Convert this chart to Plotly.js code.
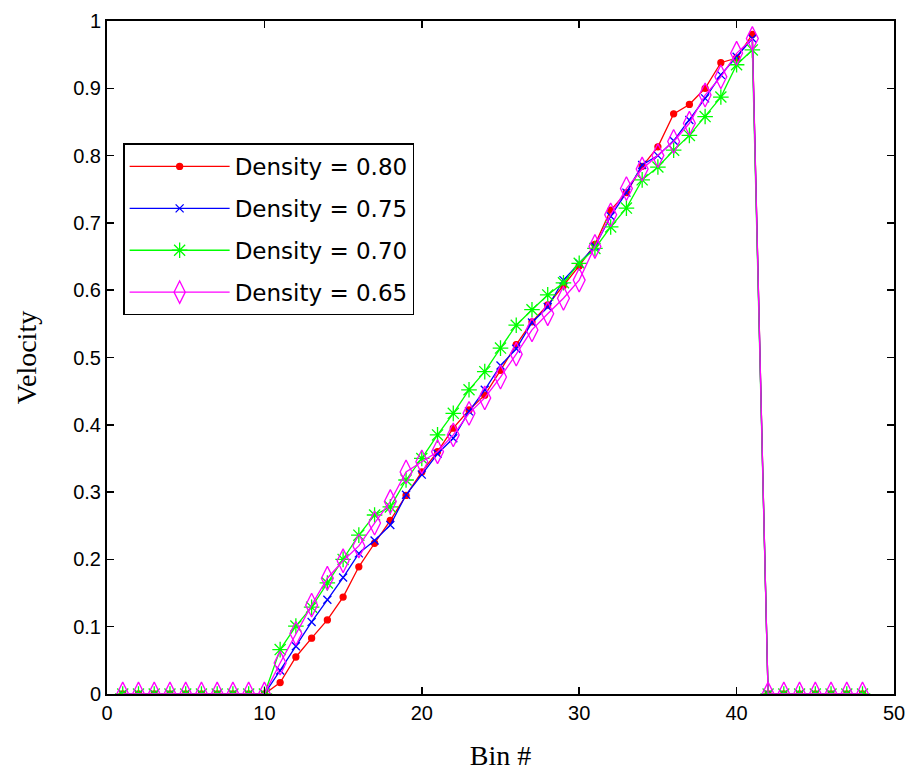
<!DOCTYPE html>
<html>
<head>
<meta charset="utf-8">
<script src="https://cdn.plot.ly/plotly-3.0.1.min.js"></script>
<style>html,body{margin:0;padding:0;background:#fff;}#chart{width:912px;height:778px;}</style>
</head>
<body>
<div id="chart"></div>
<script>
// Bin numbers 1..48
const bins = [1,2,3,4,5,6,7,8,9,10,11,12,13,14,15,16,17,18,19,20,21,22,23,24,25,26,27,28,29,30,31,32,33,34,35,36,37,38,39,40,41,42,43,44,45,46,47,48];

const zerosLead = [0,0,0,0,0,0,0,0,0,0];
const zerosTail = [0,0,0,0,0,0,0];

// Velocity, bins 11..41
const vel080 = [0.017,0.055,0.083,0.110,0.144,0.189,0.224,0.258,0.295,0.330,0.360,0.395,0.422,0.444,0.481,0.519,0.553,0.578,0.607,0.636,0.668,0.719,0.745,0.784,0.813,0.862,0.876,0.900,0.938,0.945,0.980];
const vel075 = [0.035,0.071,0.107,0.140,0.173,0.209,0.228,0.251,0.296,0.326,0.357,0.380,0.420,0.452,0.488,0.513,0.552,0.575,0.615,0.640,0.665,0.710,0.745,0.786,0.800,0.822,0.853,0.885,0.920,0.947,0.974];
const vel070 = [0.066,0.101,0.129,0.165,0.200,0.236,0.266,0.278,0.318,0.350,0.385,0.417,0.452,0.479,0.514,0.548,0.571,0.593,0.611,0.640,0.662,0.694,0.722,0.764,0.783,0.808,0.830,0.858,0.887,0.935,0.957];
const vel065 = [0.046,0.090,0.132,0.172,0.198,0.220,0.254,0.286,0.330,0.345,0.360,0.385,0.417,0.440,0.471,0.505,0.541,0.565,0.588,0.615,0.665,0.712,0.751,0.780,0.800,0.821,0.848,0.890,0.917,0.952,0.974];

const names = ["Density = 0.80","Density = 0.75","Density = 0.70","Density = 0.65"];
const colors = ["#ff0000","#0000ff","#00ff00","#ff00ff"];
const series = [vel080, vel075, vel070, vel065];
const markers = [
  {symbol:"circle", size:6},
  {symbol:"x-thin-open", size:8},
  {symbol:"asterisk-open", size:13},
  {symbol:"diamond-tall-open", size:17}
];

const traces = series.map((s,i)=>({
  x: bins,
  y: zerosLead.concat(s, zerosTail),
  type: "scatter",
  mode: "lines+markers",
  name: names[i],
  legendgroup: "g"+i,
  line: {color: colors[i], width: 1.3},
  marker: {symbol: markers[i].symbol, size: markers[i].size, color: colors[i],
           line: {color: colors[i], width: 1.3}}
}));

const axisCommon = {
  showline: true, linecolor: "#000", linewidth: 2, mirror: "allticks",
  ticks: "inside", ticklen: 7, tickwidth: 1.5, tickcolor: "#000",
  showgrid: false, zeroline: false,
  tickfont: {family: "Liberation Sans, Arial, sans-serif", size: 20, color: "#000"}
};

const layout = {
  width: 912, height: 778,
  margin: {l: 107, r: 18, t: 21, b: 84},
  paper_bgcolor: "#fff", plot_bgcolor: "#fff",
  showlegend: true,
  xaxis: Object.assign({}, axisCommon, {
    range: [0, 50], tickvals: [0,10,20,30,40,50],
    title: {text: "Bin #", font: {family: "Liberation Serif, Times New Roman, serif", size: 28, color: "#000"}, standoff: 22}
  }),
  yaxis: Object.assign({}, axisCommon, {
    range: [0, 1], tickvals: [0,0.1,0.2,0.3,0.4,0.5,0.6,0.7,0.8,0.9,1],
    ticktext: ["0","0.1","0.2","0.3","0.4","0.5","0.6","0.7","0.8","0.9","1"],
    title: {text: "Velocity", font: {family: "Liberation Serif, Times New Roman, serif", size: 28, color: "#000"}, standoff: 28}
  }),
  legend: {
    x: 0.0205, y: 0.818, xanchor: "left", yanchor: "top",
    bgcolor: "#fff", bordercolor: "#000", borderwidth: 1.5,
    font: {family: "DejaVu Sans, Verdana, sans-serif", size: 23, color: "#000"},
    itemwidth: 100, traceorder: "grouped", tracegroupgap: 9
  }
};

Plotly.newPlot("chart", traces, layout, {displayModeBar: false, staticPlot: true});
</script>
</body>
</html>
